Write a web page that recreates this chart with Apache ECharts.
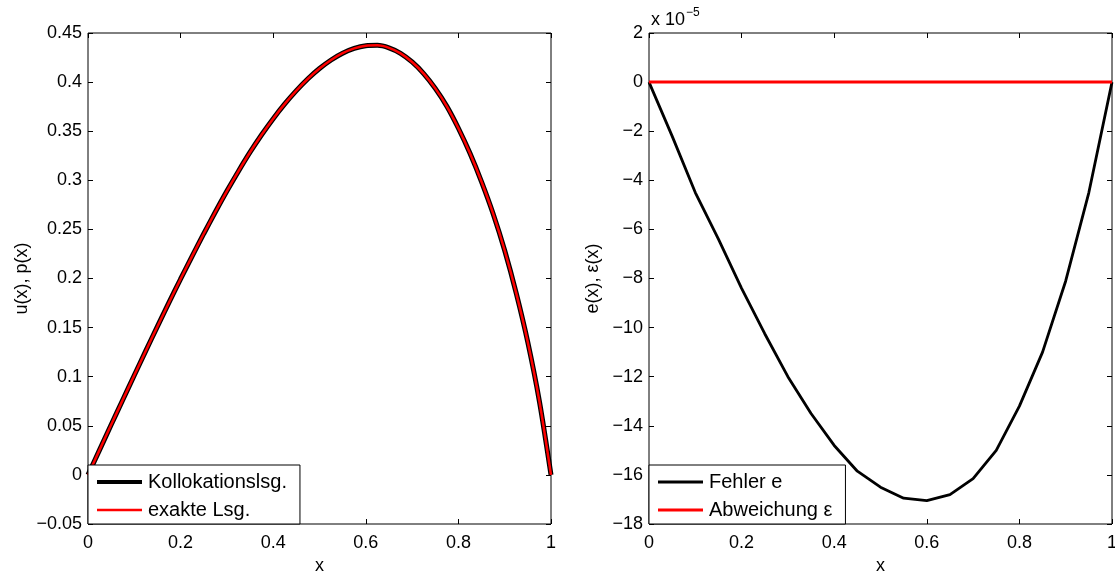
<!DOCTYPE html>
<html>
<head>
<meta charset="utf-8">
<script src="https://cdn.jsdelivr.net/npm/echarts@6/dist/echarts.min.js"></script>
<style>
  html, body { margin: 0; padding: 0; background: #fff; }
  #chart { width: 1115px; height: 572px; }
</style>
</head>
<body>
<div id="chart"></div>
<script>
// Collocation solution vs. exact solution on [0, 1]
const xU = [0, 0.025, 0.05, 0.075, 0.1, 0.125, 0.15, 0.175, 0.2, 0.225, 0.25, 0.275, 0.3,
            0.325, 0.35, 0.375, 0.4, 0.425, 0.45, 0.475, 0.5, 0.525, 0.55, 0.575, 0.6, 0.625,
            0.65, 0.675, 0.7, 0.725, 0.75, 0.775, 0.8, 0.825, 0.85, 0.875, 0.9, 0.925, 0.95,
            0.975, 1];
const uKoll = [0, 0.0255, 0.051, 0.0763, 0.1015, 0.1265, 0.1512, 0.1756, 0.1995, 0.2228,
               0.2456, 0.2677, 0.2890, 0.3093, 0.3286, 0.3464, 0.3628, 0.3778, 0.3913, 0.4034,
               0.4138, 0.4225, 0.4294, 0.4343, 0.4370, 0.4374, 0.4349, 0.4293, 0.4205, 0.4087,
               0.3936, 0.3754, 0.3530, 0.3275, 0.2985, 0.2660, 0.2285, 0.1848, 0.1348, 0.0748, 0];
const uExakt = [0, 0.0255, 0.051, 0.0763, 0.1015, 0.1265, 0.1512, 0.1756, 0.1995, 0.2228,
                0.2456, 0.2677, 0.2890, 0.3093, 0.3286, 0.3464, 0.3628, 0.3778, 0.3913, 0.4034,
                0.4138, 0.4225, 0.4294, 0.4343, 0.4370, 0.4374, 0.4349, 0.4293, 0.4205, 0.4087,
                0.3936, 0.3754, 0.3530, 0.3275, 0.2985, 0.2660, 0.2285, 0.1848, 0.1348, 0.0748, 0];

// Error e(x) at the grid points, in units of 1e-5, and the deviation epsilon(x)
const xE = [0, 0.05, 0.1, 0.15, 0.2, 0.25, 0.3, 0.35, 0.4, 0.45, 0.5, 0.55, 0.6, 0.65,
            0.7, 0.75, 0.8, 0.85, 0.9, 0.95, 1];
const fehlerE5 = [0, -2.2, -4.5, -6.4, -8.4, -10.25, -12.0, -13.5, -14.8, -15.85, -16.5,
                  -16.95, -17.05, -16.8, -16.15, -15.0, -13.2, -11.0, -8.1, -4.5, 0];
const abweichungE5 = [0, 0, 0, 0, 0, 0, 0, 0, 0, 0, 0, 0, 0, 0, 0, 0, 0, 0, 0, 0, 0];

const xTicks = { min: 0, max: 1, interval: 0.2 };
const leftY = { min: -0.05, max: 0.45, interval: 0.05 };
const rightY = { min: -18, max: 2, interval: 2 };

const pairs = (xs, ys) => xs.map((x, i) => [x, ys[i]]);
const minus = v => String(v).replace('-', '\u2212');
// flat bar used as a legend swatch of the given stroke thickness
const bar = h => 'path://M0,0H45V' + h + 'H0Z';

const FONT = 'Liberation Sans, Arial, Helvetica, sans-serif';
const tickLabel = { color: '#000', fontSize: 18, fontFamily: FONT };
const tick = { show: true, inside: true, length: 5, lineStyle: { color: '#000', width: 1 } };
const noLine = { show: false, onZero: false };

function xAxes(gridIndex) {
  return [
    {
      type: 'value', gridIndex, ...xTicks,
      name: 'x', nameLocation: 'middle', nameGap: 28,
      nameTextStyle: { color: '#000', fontSize: 18, fontFamily: FONT },
      axisLine: noLine, axisTick: tick, splitLine: { show: false },
      axisLabel: { ...tickLabel, margin: 10, formatter: v => minus(+v.toFixed(2)) }
    },
    {
      type: 'value', gridIndex, position: 'top', ...xTicks,
      axisLine: noLine, axisTick: tick, splitLine: { show: false },
      axisLabel: { show: false }
    }
  ];
}

function yAxes(gridIndex, range, name, nameGap, digits) {
  return [
    {
      type: 'value', gridIndex, ...range,
      name, nameLocation: 'middle', nameGap,
      nameTextStyle: { color: '#000', fontSize: 18, fontFamily: FONT },
      axisLine: noLine, axisTick: tick, splitLine: { show: false },
      axisLabel: { ...tickLabel, margin: 6, formatter: v => minus(+v.toFixed(digits)) }
    },
    {
      type: 'value', gridIndex, position: 'right', ...range,
      axisLine: noLine, axisTick: tick, splitLine: { show: false },
      axisLabel: { show: false }
    }
  ];
}

const legendBase = {
  orient: 'vertical', bottom: 48,
  backgroundColor: '#fff', borderColor: '#000', borderWidth: 1,
  itemWidth: 45, itemHeight: 14, itemGap: 8,
  padding: [7, 13, 4, 9],
  textStyle: { color: '#000', fontSize: 20, fontFamily: FONT, padding: [0, 0, 0, 1] }
};

const gridBase = {
  top: 33, width: 463, height: 491, show: true, borderColor: '#000', borderWidth: 1,
  backgroundColor: 'transparent', containLabel: false, outerBoundsMode: 'none'
};

const chart = echarts.init(document.getElementById('chart'), null, { renderer: 'canvas' });
chart.setOption({
  animation: false,
  backgroundColor: '#fff',
  grid: [
    { ...gridBase, left: 88 },
    { ...gridBase, left: 649 }
  ],
  xAxis: [...xAxes(0), ...xAxes(1)],
  yAxis: [
    ...yAxes(0, leftY, 'u(x), p(x)', 57, 2),
    ...yAxes(1, rightY, 'e(x), \u03b5(x)', 47, 0)
  ],
  legend: [
    {
      ...legendBase, left: 88,
      data: [
        { name: 'Kollokationslsg.', icon: bar(4) },
        { name: 'exakte Lsg.', icon: bar(2.5) }
      ]
    },
    {
      ...legendBase, left: 649,
      data: [
        { name: 'Fehler e', icon: bar(3.2) },
        { name: 'Abweichung \u03b5', icon: bar(2.8) }
      ]
    }
  ],
  graphic: [
    {
      type: 'text', left: 651, top: 7,
      style: {
        text: '{b|x 10}{s|\u22125}',
        rich: {
          b: { fontSize: 18, fontFamily: FONT, fill: '#000', verticalAlign: 'bottom', lineHeight: 22 },
          s: { fontSize: 12, fontFamily: FONT, fill: '#000', verticalAlign: 'top', lineHeight: 22, padding: [0, 0, 8, 1] }
        }
      }
    }
  ],
  series: [
    {
      name: 'Kollokationslsg.', type: 'line', xAxisIndex: 0, yAxisIndex: 0,
      data: pairs(xU, uKoll), smooth: 0.3, symbol: 'none',
      lineStyle: { color: '#000', width: 5 }, itemStyle: { color: '#000' }
    },
    {
      name: 'exakte Lsg.', type: 'line', xAxisIndex: 0, yAxisIndex: 0,
      data: pairs(xU, uExakt), smooth: 0.3, symbol: 'none',
      lineStyle: { color: '#ff0000', width: 2.5 }, itemStyle: { color: '#ff0000' }
    },
    {
      name: 'Fehler e', type: 'line', xAxisIndex: 2, yAxisIndex: 2,
      data: pairs(xE, fehlerE5), symbol: 'none',
      lineStyle: { color: '#000', width: 2.8 }, itemStyle: { color: '#000' }
    },
    {
      name: 'Abweichung \u03b5', type: 'line', xAxisIndex: 2, yAxisIndex: 2,
      data: pairs(xE, abweichungE5), symbol: 'none',
      lineStyle: { color: '#ff0000', width: 3 }, itemStyle: { color: '#ff0000' }
    }
  ]
});
</script>
</body>
</html>
